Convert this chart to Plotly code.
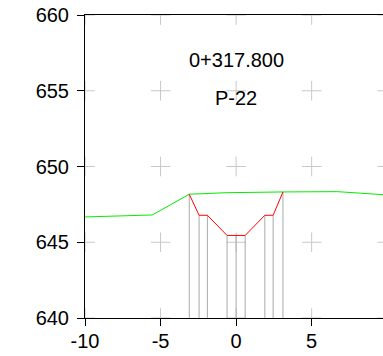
import plotly.graph_objects as go

# Ground profile (green)
ground_x = [-10.0, -5.55, -3.1, -0.65, 3.1, 6.7, 9.72]
ground_y = [646.67, 646.8, 648.17, 648.27, 648.32, 648.34, 648.14]

# Design section (red)
design_x = [-3.1, -2.45, -1.9, -0.6, 0.6, 1.9, 2.45, 3.1]
design_y = [648.17, 646.78, 646.78, 645.45, 645.45, 646.78, 646.78, 648.32]

# Vertical reference lines (grey)
vert_x = [-3.1, -2.45, -1.9, -0.6, 0.0, 0.6, 1.9, 2.45, 3.1]
vert_top = [648.17, 646.78, 646.78, 645.45, 645.45, 645.45, 646.78, 646.78, 648.32]
datum = 640

grid_x = [-10, -5, 0, 5, 10]
grid_y = [640, 645, 650, 655, 660]

x_ticks = [-10, -5, 0, 5, 10]
x_tick_text = ["-10", "-5", "0", "5", "10"]
y_ticks = [640, 645, 650, 655, 660]

station_label = "0+317.800"
profile_label = "P-22"

fig = go.Figure()

# grid crosses
cx, cy = [], []
for gx in grid_x:
    for gy in grid_y:
        cx.append(gx)
        cy.append(gy)
fig.add_trace(go.Scatter(x=cx, y=cy, mode="markers",
                         marker=dict(symbol="cross-thin", size=14,
                                     line=dict(color="#c8c8c8", width=1)),
                         hoverinfo="skip", showlegend=False))

# vertical lines
vx, vy = [], []
for x, t in zip(vert_x, vert_top):
    vx += [x, x, None]
    vy += [datum, t, None]
fig.add_trace(go.Scatter(x=vx, y=vy, mode="lines",
                         line=dict(color="#aaaaaa", width=1),
                         hoverinfo="skip", showlegend=False))

fig.add_trace(go.Scatter(x=ground_x, y=ground_y, mode="lines",
                         line=dict(color="#00ee00", width=1),
                         showlegend=False))
fig.add_trace(go.Scatter(x=design_x, y=design_y, mode="lines",
                         line=dict(color="#ff0000", width=1),
                         showlegend=False))

fig.add_annotation(x=0, y=657, text=station_label, showarrow=False,
                   font=dict(size=20, color="black", family="Liberation Sans"))
fig.add_annotation(x=0, y=654.5, text=profile_label, showarrow=False,
                   font=dict(size=20, color="black", family="Liberation Sans"))

fig.update_layout(
    width=383, height=356,
    margin=dict(l=85, r=0, t=15, b=38, autoexpand=False),
    plot_bgcolor="white", paper_bgcolor="white",
    font=dict(family="Liberation Sans", size=20, color="black"),
)
fig.update_xaxes(range=[-10, 9.72], tickvals=x_ticks, ticktext=x_tick_text,
                 showgrid=False, zeroline=False, automargin=False,
                 showline=True, linecolor="black", linewidth=1, mirror=True,
                 ticks="outside", ticklen=7, tickcolor="black",
                 ticklabeloverflow="allow", ticklabelstandoff=-2)
fig.update_yaxes(range=[640, 660], tickvals=y_ticks, showgrid=False, zeroline=False,
                 automargin=False,
                 showline=True, linecolor="black", linewidth=1,
                 ticks="outside", ticklen=7, tickcolor="black",
                 ticklabeloverflow="allow", ticklabelstandoff=4)

fig.write_html("out.html",
               config={"displayModeBar": False},
               post_script="document.body.style.margin='0';document.body.style.overflow='hidden';")
